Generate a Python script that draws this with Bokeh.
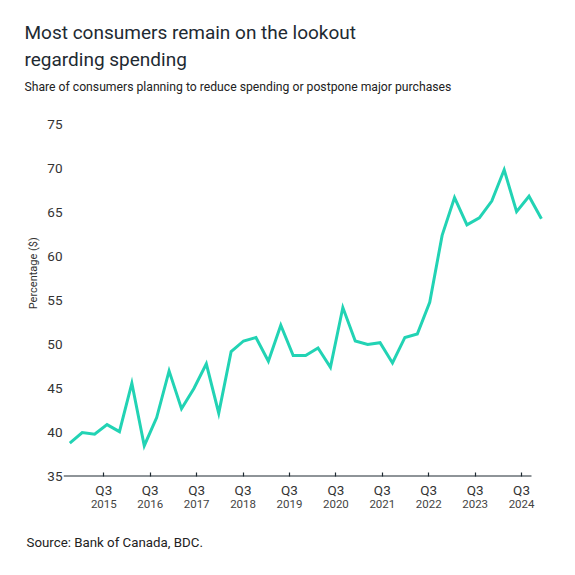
from bokeh.plotting import figure
from bokeh.models import (FixedTicker, LinearAxis, Range1d, ColumnDataSource, Title)
from bokeh.embed import file_html
from bokeh.resources import INLINE

# ---- data (quarterly, Q1 2015 .. Q3 2024) ----
values = [38.8, 40.0, 39.8, 40.9, 40.1, 45.6, 38.5, 41.7, 47.0, 42.7,
          45.0, 47.8, 42.2, 49.2, 50.4, 50.8, 48.1, 52.2, 48.75, 48.75,
          49.6, 47.4, 54.2, 50.4, 50.0, 50.2, 47.9, 50.8, 51.2, 54.8,
          62.4, 66.7, 63.6, 64.4, 66.3, 69.85, 65.1, 66.85, 64.3]
quarter_index = list(range(len(values)))
tick_quarter = ["Q3"] * 10
tick_years = ["2015", "2016", "2017", "2018", "2019",
              "2020", "2021", "2022", "2023", "2024"]
y_ticks = [35, 40, 45, 50, 55, 60, 65, 70, 75]

TITLE = ["Most consumers remain on the lookout", "regarding spending"]
SUBTITLE = "Share of consumers planning to reduce spending or postpone major purchases"
SOURCE = "Source: Bank of Canada, BDC."
YTITLE = "Percentage ($)"

FONT = "Roboto"
DARK = "#1e2a32"
TEAL = "#22d3b4"

FL, FT, FW, FH = 63, 124, 484, 352   # frame left/top/width/height (page px)
W, H = FL + FW + 20, 567
FB = FT + FH
tick_pos = [2.74 + 3.74 * k for k in range(len(tick_years))]

p = figure(width=W, height=H, output_backend="svg", toolbar_location=None,
           title=None,
           x_range=Range1d(-0.508, 38.49), y_range=Range1d(35, 75),
           min_border_left=FL, min_border_right=W - FL - FW,
           min_border_top=FT, min_border_bottom=H - FB)
p.outline_line_color = None
p.xgrid.visible = False
p.ygrid.visible = False
p.background_fill_color = "white"
p.border_fill_color = "white"

src = ColumnDataSource(dict(x=quarter_index, y=values))
p.line("x", "y", source=src, line_color=TEAL, line_width=3, line_join="miter")

# baseline (axis line) ending where the reference's does
p.segment(x0=[-0.508], y0=[35], x1=[37.2], y1=[35], line_color=DARK, line_width=2.2)

# x axis: Q3 labels
xa = p.xaxis[0]
xa.ticker = FixedTicker(ticks=tick_pos)
xa.major_label_overrides = {t: q for t, q in zip(tick_pos, tick_quarter)}
xa.axis_line_color = None
xa.major_tick_in = 4
xa.major_tick_out = 0
xa.major_tick_line_color = DARK
xa.major_tick_line_width = 1.2
xa.minor_tick_line_color = None
xa.major_label_text_font = FONT
xa.major_label_text_font_size = "13.5px"
xa.major_label_text_color = "#333333"
xa.major_label_standoff = 5

# x axis: year labels
ya2 = LinearAxis(ticker=FixedTicker(ticks=tick_pos),
                 major_label_overrides={t: y for t, y in zip(tick_pos, tick_years)})
ya2.axis_line_color = None
ya2.major_tick_line_color = None
ya2.major_tick_in = 0
ya2.major_tick_out = 0
ya2.minor_tick_line_color = None
ya2.major_label_text_font = FONT
ya2.major_label_text_font_size = "11.5px"
ya2.major_label_text_color = "#444444"
ya2.major_label_standoff = -1
p.add_layout(ya2, "below")

# y axis
yax = p.yaxis[0]
yax.ticker = FixedTicker(ticks=y_ticks)
yax.axis_line_color = None
yax.major_tick_line_color = None
yax.major_tick_in = 0
yax.major_tick_out = 0
yax.minor_tick_line_color = None
yax.major_label_text_font = FONT
yax.major_label_text_font_size = "13.5px"
yax.major_label_text_color = "#333333"
yax.major_label_standoff = 1
yax.axis_label = "\u00a0" * 20 + YTITLE
yax.axis_label_text_font = FONT
yax.axis_label_text_font_size = "11px"
yax.axis_label_text_font_style = "normal"
yax.axis_label_text_color = "#333333"
yax.axis_label_standoff = 4

# empty spacers (one invisible tick each)
def spacer(size, where):
    ax = LinearAxis(ticker=FixedTicker(ticks=[0]), major_label_overrides={0: ""},
                    axis_line_color=None, major_tick_line_color=None,
                    minor_tick_line_color=None, major_tick_in=0,
                    major_tick_out=size, major_label_standoff=0)
    p.add_layout(ax, where)

spacer(25, "above")
spacer(20, "below")

# titles (stacked outward from the frame)
def ttl(text, size, color, standoff, where="above", x=24):
    p.add_layout(Title(text=text, text_font=FONT, text_font_size=size,
                       text_font_style="normal", text_color=color,
                       align="left", offset=x - FL, standoff=standoff), where)

ttl(SUBTITLE, "12.2px", "#222222", 12)
ttl(TITLE[1], "19px", DARK, 2)
ttl(TITLE[0], "19px", DARK, 2)
ttl(SOURCE, "13.3px", "#222222", 4, "below", x=26)

open("out.html", "w").write(file_html(p, INLINE))
